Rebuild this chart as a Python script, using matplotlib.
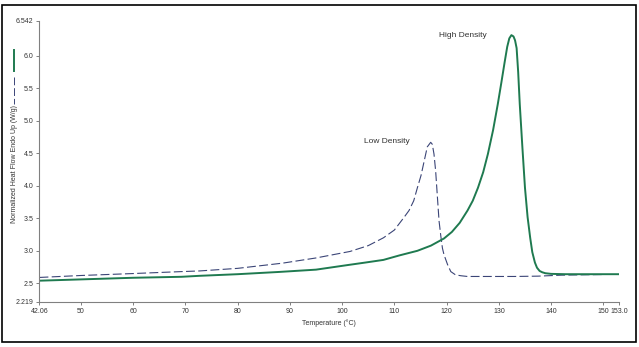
import matplotlib
matplotlib.use("Agg")
import matplotlib.pyplot as plt
from matplotlib.patches import Rectangle
from matplotlib.lines import Line2D

plt.rcParams['font.family'] = ['Liberation Sans', 'DejaVu Sans']

# High Density curve (solid green)
hd_temp = [42.06, 50, 60, 69.25, 72.7, 80, 88, 95, 101, 104.5, 107.9, 111, 114.4,
           117, 119.5, 121, 122.5, 124.0, 125.0, 126.0, 127.0, 127.9, 128.9,
           129.8, 130.5, 131.1, 131.6, 132.0, 132.4, 132.8, 133.1, 133.4, 133.7,
           134.0, 134.5, 135.0, 135.5, 136.0, 136.4, 136.9, 137.3, 137.8, 138.3,
           138.9, 140, 142.7, 147, 153.0]
hd_flow = [2.54, 2.56, 2.585, 2.60, 2.615, 2.64, 2.675, 2.71, 2.78, 2.82, 2.86,
           2.93, 3.00, 3.08, 3.19, 3.29, 3.43, 3.62, 3.77, 3.97, 4.21, 4.49,
           4.86, 5.26, 5.60, 5.90, 6.14, 6.27, 6.32, 6.30, 6.24, 6.12, 5.75,
           5.26, 4.60, 3.97, 3.52, 3.20, 2.98, 2.82, 2.74, 2.69, 2.67, 2.655,
           2.645, 2.64, 2.64, 2.64]

# Low Density curve (dashed navy)
ld_temp = [42.06, 50, 60, 69.25, 72.7, 80, 88.6, 95, 101.5, 105, 107.9, 110,
           111.8, 112.8, 113.7, 114.4, 115.1, 115.7, 116.3, 116.95, 117.26,
           117.58, 117.9, 118.2, 118.55, 118.9, 119.2, 119.5, 120.17, 120.8,
           121.7, 122.75, 124, 127.3, 133, 137.5, 142, 150]
ld_flow = [2.59, 2.62, 2.65, 2.68, 2.69, 2.73, 2.81, 2.89, 2.99, 3.08, 3.20, 3.32,
           3.51, 3.62, 3.77, 3.97, 4.16, 4.38, 4.60, 4.67, 4.64, 4.49, 4.23, 3.87,
           3.46, 3.22, 3.04, 2.94, 2.79, 2.68, 2.63, 2.616, 2.605, 2.605, 2.605,
           2.61, 2.625, 2.635]

xticks = [42.06, 50, 60, 70, 80, 90, 100, 110, 120, 130, 140, 150, 153.0]
xticklabels = ['42.06', '50', '60', '70', '80', '90', '100', '110', '120', '130',
               '140', '150', '153.0']
yticks = [2.219, 2.5, 3.0, 3.5, 4.0, 4.5, 5.0, 5.5, 6.0, 6.542]
yticklabels = ['2.219', '2.5', '3.0', '3.5', '4.0', '4.5', '5.0', '5.5', '6.0', '6.542']

green = '#1f7a50'
navy = '#3b4577'
gray = '#808080'
txt = '#333333'

fig = plt.figure(figsize=(6.39, 3.47), dpi=100)
ax = fig.add_axes([0.0618, 0.131, 0.9069, 0.8093])

ax.plot(ld_temp, ld_flow, color=navy, lw=0.8, dashes=(8, 3))
ax.plot(hd_temp, hd_flow, color=green, lw=1.4)

ax.set_xlim(42.06, 153.0)
ax.set_ylim(2.219, 6.542)
ax.set_xticks(xticks)
ax.set_xticklabels(xticklabels)
ax.set_yticks(yticks)
ax.set_yticklabels(yticklabels)
ax.tick_params(direction='out', length=2.5, width=0.7, color=gray,
               labelsize=5, labelcolor=txt, pad=2)
for s in ['top', 'right']:
    ax.spines[s].set_visible(False)
for s in ['left', 'bottom']:
    ax.spines[s].set_color(gray)
    ax.spines[s].set_linewidth(0.8)

ax.set_xlabel('Temperature (°C)', fontsize=5, color=txt, labelpad=3)

ax.text(123.2, 6.32, 'High Density', fontsize=6, color=txt, ha='center', va='center')
ax.text(108.5, 4.68, 'Low Density', fontsize=6, color=txt, ha='center', va='center')

# y label with legend line samples above it
fig.text(15 / 639, 1 - 164 / 347, 'Normalized Heat Flow Endo Up (W/g)', rotation=90,
         fontsize=5, color=txt, ha='center', va='center')
fig.add_artist(Line2D([13.5 / 639, 13.5 / 639], [1 - 50 / 347, 1 - 71 / 347],
                      color=green, lw=1.4))
fig.add_artist(Line2D([13.5 / 639, 13.5 / 639], [1 - 77 / 347, 1 - 104 / 347],
                      color=navy, lw=0.7, dashes=(8, 3)))

# outer frame
fig.add_artist(Rectangle((2 / 639, 1 - 342 / 347), 634 / 639, 337 / 347,
                         transform=fig.transFigure, fill=False, ec='black', lw=1.2))

fig.savefig('out.png', dpi=100)
